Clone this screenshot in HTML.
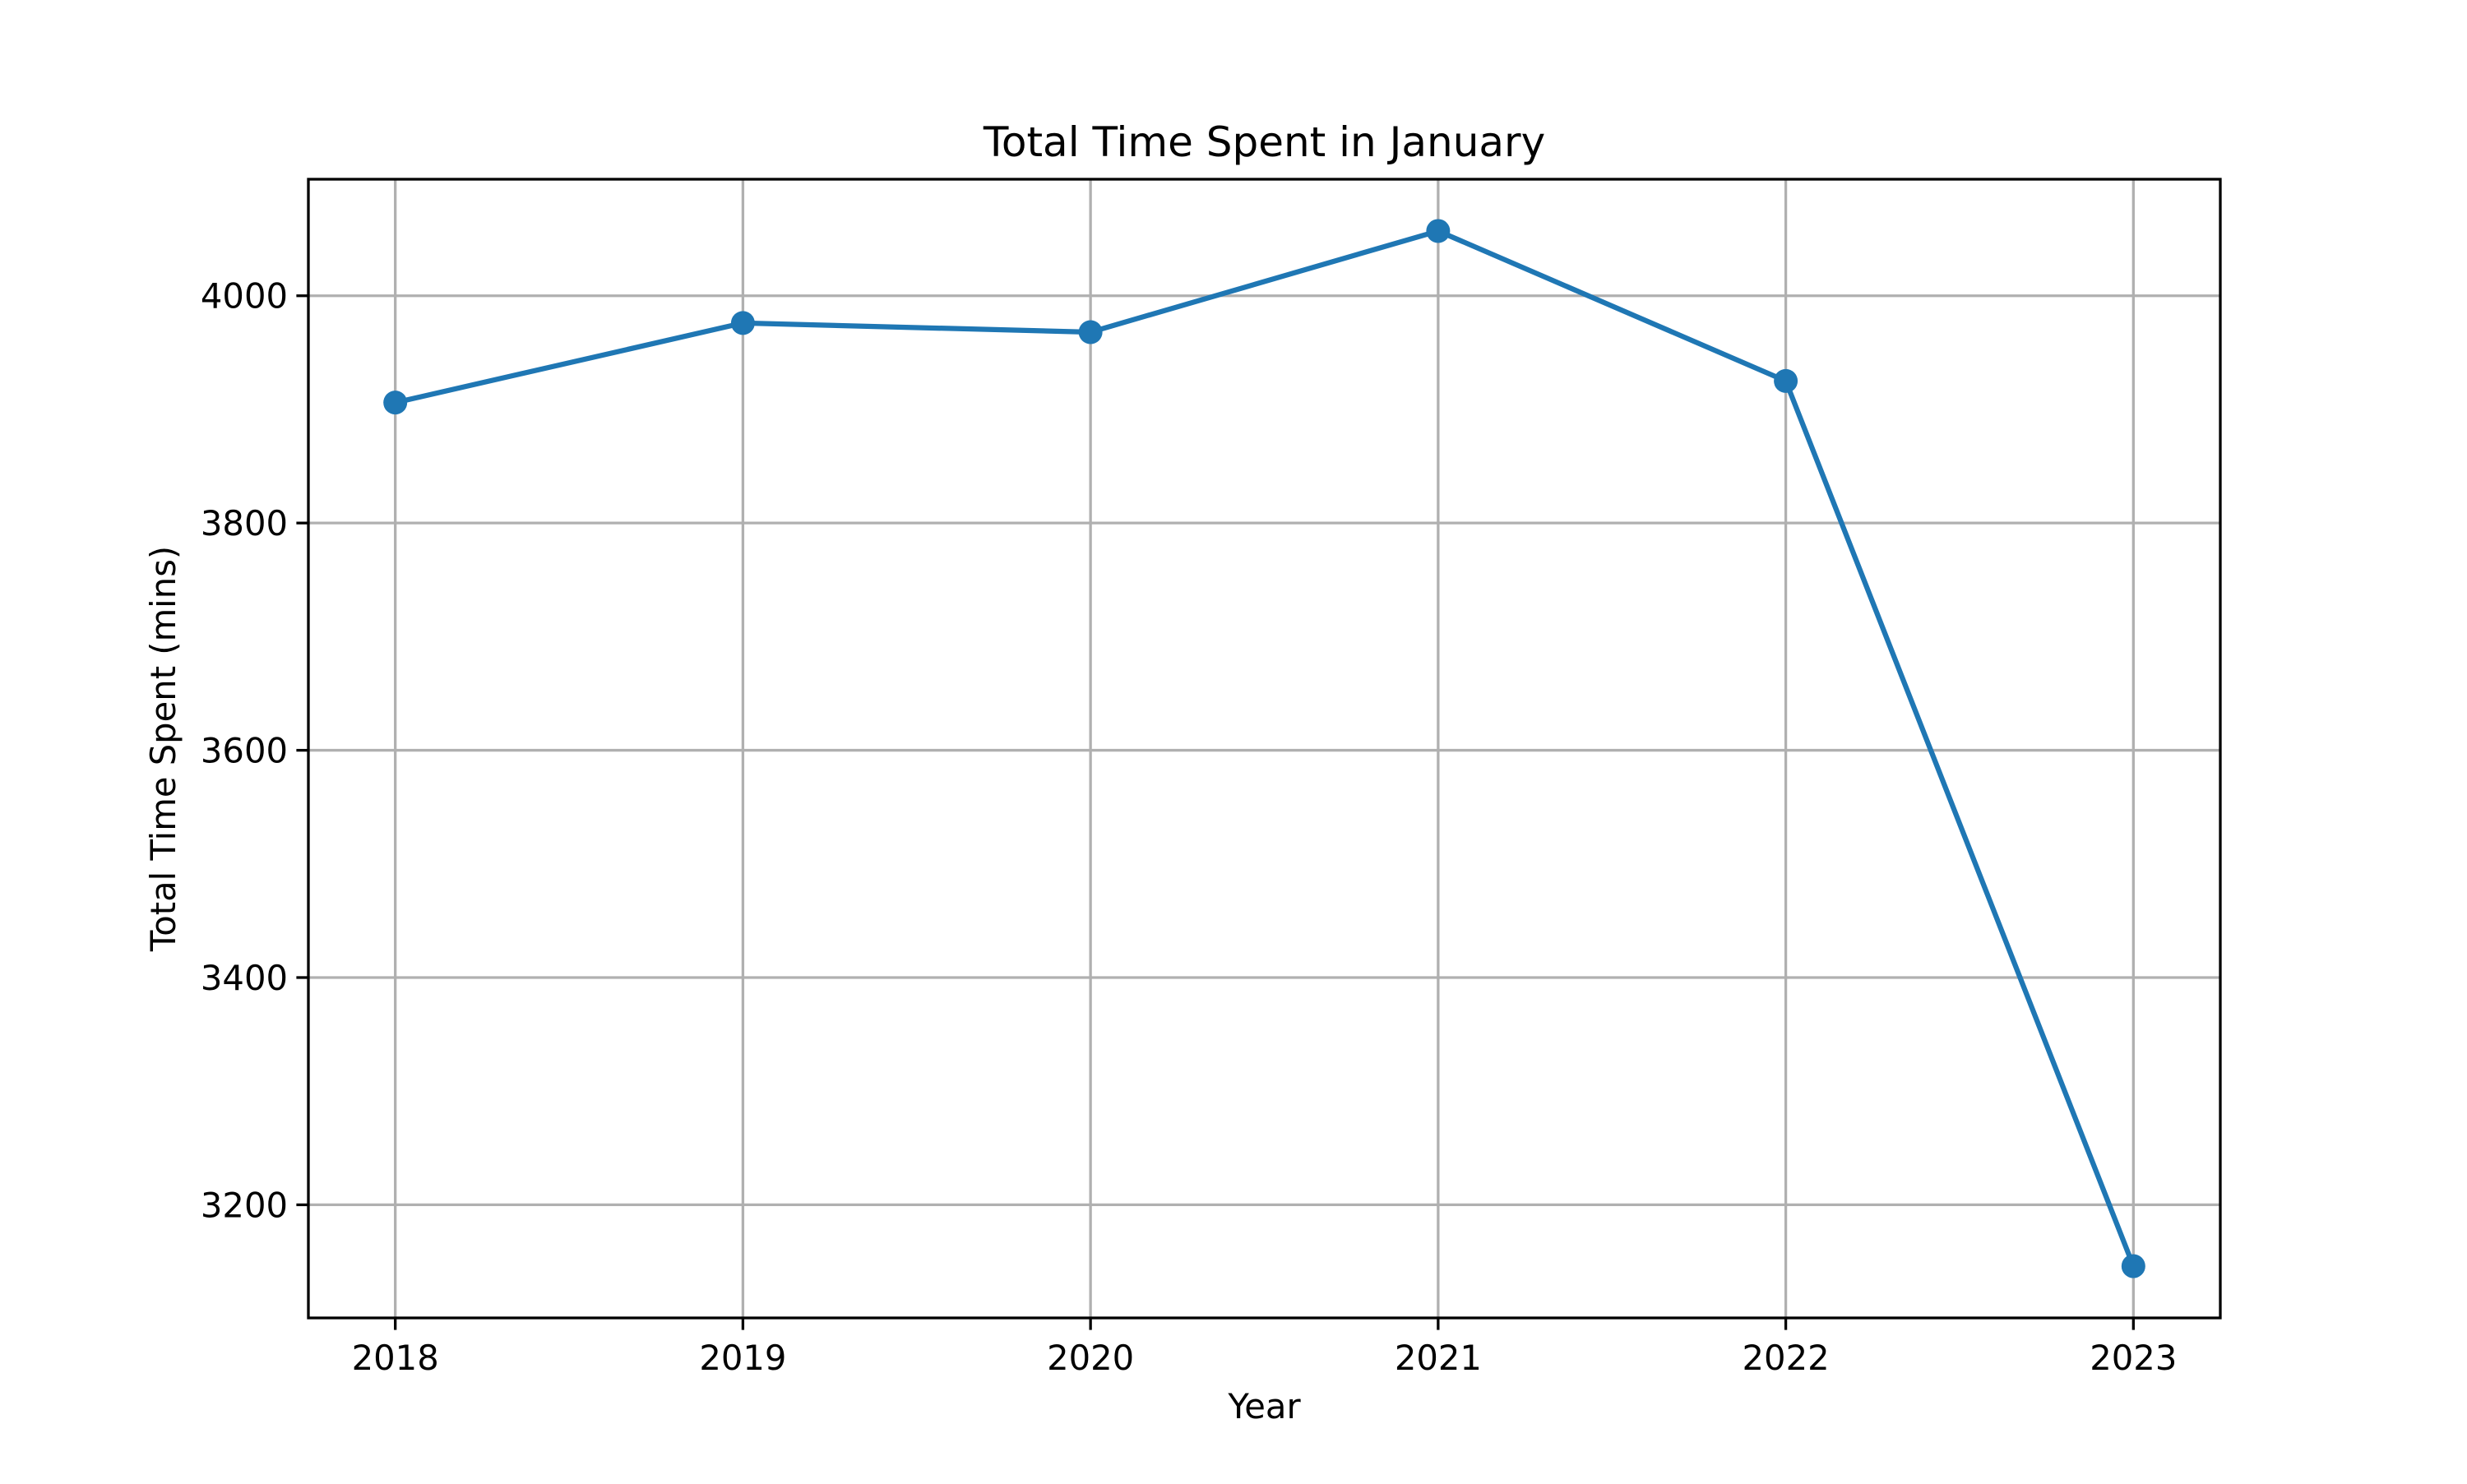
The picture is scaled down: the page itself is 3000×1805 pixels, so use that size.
<!DOCTYPE html>
<html><head><meta charset="utf-8"><style>
body{margin:0;background:#fff}
svg text{font-family:"DejaVu Sans","Liberation Sans",sans-serif;fill:#000}
</style></head><body>
<svg id="chart" width="3000" height="1800" viewBox="0 0 3000 1800" xmlns="http://www.w3.org/2000/svg">
<rect width="3000" height="1800" fill="#fff"/>
<g id="grid"></g><g id="plot"></g><g id="axes"></g>
</svg>
<script>
const years = [2018, 2019, 2020, 2021, 2022, 2023];
const minutes = [3906, 3976, 3968, 4057, 3925, 3146];
const yTicks = [3200, 3400, 3600, 3800, 4000];
const L=375,R=2700,T=218,B=1603;
const xmin=2017.75,xmax=2023.25;
const ylo=Math.min(...minutes),yhi=Math.max(...minutes),m=(yhi-ylo)*0.05;
const ymin=ylo-m,ymax=yhi+m;
const X=v=>L+(v-xmin)/(xmax-xmin)*(R-L);
const Y=v=>B-(v-ymin)/(ymax-ymin)*(B-T);
const NS='http://www.w3.org/2000/svg';
function mk(tag,attrs,parent,text){const e=document.createElementNS(NS,tag);for(const k in attrs)e.setAttribute(k,attrs[k]);if(text!==undefined)e.textContent=text;document.getElementById(parent).appendChild(e);return e;}
years.forEach(v=>{
 const g=mk('line',{x1:X(v),x2:X(v),y1:T,y2:B,stroke:'#b0b0b0','stroke-width':3.3},'grid');
 
 
 const t=mk('line',{x1:X(v),x2:X(v),y1:B,y2:B+14.6,stroke:'#000','stroke-width':3.3},'axes');
 
 
 const l=mk('text',{x:X(v),y:B+63,'font-size':41.7,'text-anchor':'middle'},'axes',String(v));
 
 
});
yTicks.forEach(v=>{
 const g=mk('line',{x1:L,x2:R,y1:Y(v),y2:Y(v),stroke:'#b0b0b0','stroke-width':3.3},'grid');
 
 
 const t=mk('line',{x1:L-14.6,x2:L,y1:Y(v),y2:Y(v),stroke:'#000','stroke-width':3.3},'axes');
 
 
 const l=mk('text',{x:L-25,y:Y(v)+15,'font-size':41.7,'text-anchor':'end'},'axes',String(v));
 
 
});
const line=mk('polyline',{points:years.map((v,i)=>X(v)+','+Y(minutes[i])).join(' '),fill:'none',stroke:'#1f77b4','stroke-width':6.25,'stroke-linejoin':'round'},'plot');


years.forEach((v,i)=>{
 const c=mk('circle',{cx:X(v),cy:Y(minutes[i]),r:14.5,fill:'#1f77b4'},'plot');
 
 
});
const f=mk('rect',{x:L,y:T,width:R-L,height:B-T,fill:'none',stroke:'#000','stroke-width':3.3},'axes');


const ti=mk('text',{x:(L+R)/2,y:190,'font-size':50,'text-anchor':'middle'},'axes','Total Time Spent in January');


const xl=mk('text',{x:(L+R)/2,y:1725,'font-size':41.7,'text-anchor':'middle'},'axes','Year');


const yl=mk('text',{x:0,y:0,'font-size':41.7,'text-anchor':'middle',transform:'translate(213,'+((T+B)/2)+') rotate(-90)'},'axes','Total Time Spent (mins)');


</script>
</body></html>
